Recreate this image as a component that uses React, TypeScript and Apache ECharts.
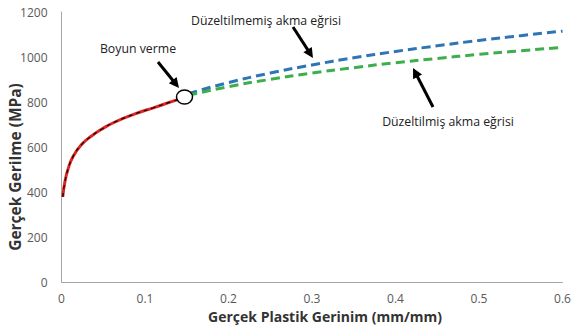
import React, { useEffect, useRef } from "react";
import * as echarts from "echarts";

const xTicks = [0, 0.1, 0.2, 0.3, 0.4, 0.5, 0.6];
const yTicks = [0, 200, 400, 600, 800, 1000, 1200];

const engStrain = [0.0015, 0.004, 0.008, 0.014, 0.024, 0.036, 0.048, 0.064, 0.088, 0.11, 0.13, 0.143];
const engStress = [380, 445, 505, 560, 612, 650, 680, 712, 748, 775, 800, 816];

const uncorrStrain = [0.152, 0.2, 0.25, 0.3, 0.35, 0.4, 0.45, 0.5, 0.55, 0.6];
const uncorrStress = [838, 887, 929, 965, 997, 1025, 1050, 1074, 1095, 1115];

const corrStrain = [0.152, 0.2, 0.25, 0.3, 0.35, 0.4, 0.45, 0.5, 0.55, 0.6];
const corrStress = [830, 869, 901, 929, 953, 975, 994, 1012, 1028, 1043];

const pair = (xs: number[], ys: number[]) => xs.map((x, i) => [x, ys[i]]);

function arrow(x1: number, y1: number, x2: number, y2: number) {
  const dx = x2 - x1, dy = y2 - y1;
  const len = Math.hypot(dx, dy);
  const ux = dx / len, uy = dy / len;
  const hl = 10, hw = 5;
  const bx = x2 - ux * hl, by = y2 - uy * hl;
  const px = -uy, py = ux;
  return [
    { type: "line", shape: { x1, y1, x2: bx + ux, y2: by + uy }, style: { stroke: "#000", lineWidth: 3 } },
    {
      type: "polygon",
      shape: { points: [[x2, y2], [bx + px * hw, by + py * hw], [bx - px * hw, by - py * hw]] },
      style: { fill: "#000" },
    },
  ];
}

export default function App() {
  const ref = useRef<HTMLDivElement>(null);
  useEffect(() => {
    document.body.style.margin = "0";
    const chart = echarts.init(ref.current!, null, { renderer: "svg" });
    const font = "'Open Sans', sans-serif";
    chart.setOption({
      animation: false,
      textStyle: { fontFamily: font },
      grid: { left: 61.5, top: 12, right: 8.5, bottom: 47.5, outerBoundsMode: "none", containLabel: false },
      xAxis: {
        type: "value",
        min: 0,
        max: 0.6,
        interval: 0.1,
        name: "Gerçek Plastik Gerinim (mm/mm)",
        nameLocation: "middle",
        nameGap: 26,
        nameTextStyle: { fontFamily: font, fontWeight: "bold", fontSize: 14, color: "#333", padding: [0, 0, 0, 26] },
        axisLine: { show: true, lineStyle: { color: "#a6a6a6", width: 1 } },
        axisTick: { show: false },
        splitLine: { show: false },
        axisLabel: {
          fontFamily: font, fontSize: 12, color: "#595959", margin: 10,
          formatter: (v: number) => String(xTicks.find((t) => Math.abs(t - v) < 1e-9) ?? v),
        },
      },
      yAxis: {
        type: "value",
        min: 0,
        max: 1200,
        interval: 200,
        axisLine: { show: true, lineStyle: { color: "#a6a6a6", width: 1 } },
        axisTick: { show: false },
        splitLine: { show: false },
        axisLabel: {
          fontFamily: font, fontSize: 12, color: "#595959", margin: 14,
          formatter: (v: number) => String(yTicks.find((t) => t === v) ?? v),
        },
      },
      series: [
        {
          type: "line", data: pair(uncorrStrain, uncorrStress), symbol: "none", smooth: true,
          lineStyle: { color: "#2e75b6", width: 3, type: [9, 5] },
        },
        {
          type: "line", data: pair(corrStrain, corrStress), symbol: "none", smooth: true,
          lineStyle: { color: "#3cae4c", width: 3, type: [9, 5] },
        },
        {
          type: "line", data: pair(engStrain, engStress), symbol: "none", smooth: true,
          lineStyle: { color: "#e02424", width: 3 },
        },
        {
          type: "line", data: pair(engStrain, engStress), symbol: "none", smooth: true,
          lineStyle: { color: "#000", width: 1.2, type: [4, 4] },
        },
      ],
      graphic: [
        {
          type: "text", x: 15, y: 167, rotation: Math.PI / 2,
          style: { text: "Gerçek Gerilme (MPa)", fontFamily: font, fontWeight: "bold", fontSize: 15.5, fill: "#333", align: "center", verticalAlign: "middle" },
        },
        { type: "text", x: 138, y: 48, style: { text: "Boyun verme", fontFamily: font, fontSize: 12.3, fill: "#222", align: "center", verticalAlign: "middle" } },
        { type: "text", x: 266, y: 20, style: { text: "Düzeltilmemiş akma eğrisi", fontFamily: font, fontSize: 12.3, fill: "#222", align: "center", verticalAlign: "middle" } },
        { type: "text", x: 448, y: 121, style: { text: "Düzeltilmiş akma eğrisi", fontFamily: font, fontSize: 12.3, fill: "#222", align: "center", verticalAlign: "middle" } },
        ...arrow(158, 62, 179, 88),
        ...arrow(293, 27, 313, 58),
        ...arrow(433, 107, 413, 68),
        {
          type: "ellipse", shape: { cx: 184.5, cy: 97, rx: 8, ry: 7 },
          style: { fill: "#fff", stroke: "#000", lineWidth: 1.5 }, z: 100,
        },
      ],
    });
    return () => chart.dispose();
  }, []);
  return <div ref={ref} style={{ width: 571, height: 330 }} />;
}
